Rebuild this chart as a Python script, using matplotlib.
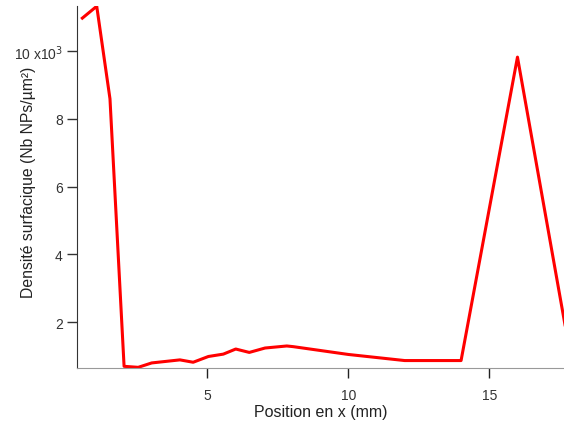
import matplotlib
matplotlib.use("Agg")
import matplotlib.pyplot as plt
from matplotlib.ticker import FuncFormatter

plt.rcParams['font.family'] = ['Liberation Sans', 'DejaVu Sans']

# position (mm) and surface density (x10^3 NPs/um^2)
x_mm = [0.57, 1.08, 1.55, 2.05, 2.55, 3.03, 4.03, 4.5, 5.04, 5.57, 6.01, 6.49,
        7.05, 7.82, 8.05, 10.0, 12.0, 14.0, 16.0, 18.0]
density = [10.97, 11.32, 8.59, 0.70, 0.67, 0.80, 0.89, 0.82, 0.99, 1.06, 1.21, 1.11,
           1.24, 1.30, 1.28, 1.05, 0.87, 0.87, 9.82, 0.45]

fig = plt.figure(figsize=(5.64, 4.27), dpi=100)
ax = fig.add_axes([0.137, 0.135, 0.863, 0.848])
ax.plot(x_mm, density, color='#ff0000', linewidth=2.2)

ax.set_xlim(0.39, 17.65)
ax.set_ylim(0.64, 11.32)
ax.set_xticks([5, 10, 15])
ax.set_yticks([2, 4, 6, 8, 10])
ax.yaxis.set_major_formatter(FuncFormatter(
    lambda v, p: r'10 x10$^{3}$' if v == 10 else f'{v:g}'))

for s in ['top', 'right']:
    ax.spines[s].set_visible(False)
ax.spines['left'].set_color('#333333')
ax.spines['bottom'].set_color('#999999')
ax.tick_params(direction='out', length=7.5, width=1, colors='#333333', labelsize=10, pad=3)
ax.tick_params(axis='x', color='#222222', pad=7)

ax.set_xlabel('Position en x (mm)', fontsize=11.5, color='#222222', labelpad=1)
ax.set_ylabel('Densité surfacique (Nb NPs/µm²)', fontsize=11.3, color='#222222')
ax.yaxis.set_label_coords(-0.085, 0.516)

plt.savefig('out.png', dpi=100)
